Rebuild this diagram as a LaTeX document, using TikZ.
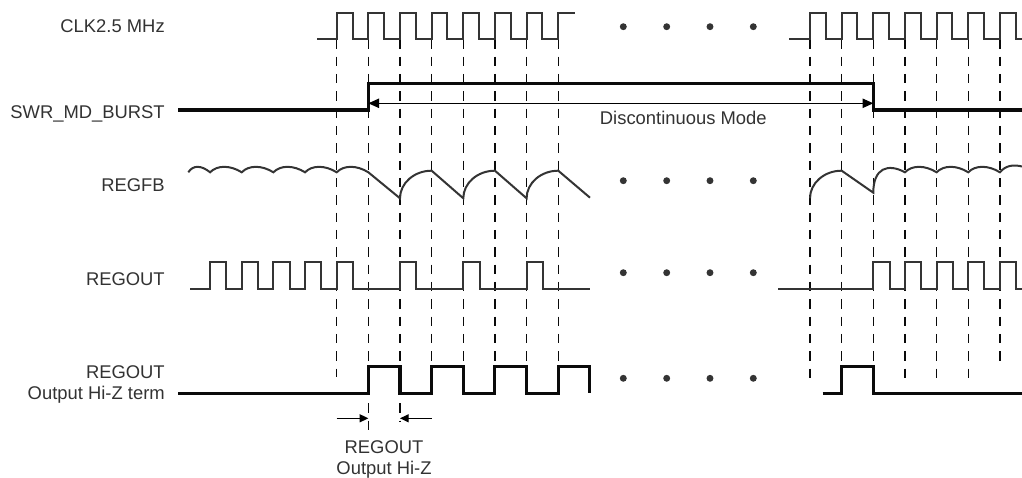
\documentclass[tikz,border=0pt]{standalone}
\usepackage{fontspec}
\setmainfont{Liberation Sans}
\usepackage{tikz}
\usetikzlibrary{arrows.meta,positioning}
\usepackage{xcolor}
\definecolor{wavegray}{RGB}{52,52,52}
\definecolor{textgray}{RGB}{50,50,50}
\definecolor{lineblack}{RGB}{10,10,10}

\begin{document}
\begin{tikzpicture}[
  x=0.75pt, y=-0.75pt,
  wave/.style={draw=wavegray, line width=1.5pt},
  heavy/.style={draw=lineblack, line width=2.3pt},
  guide/.style={draw=lineblack, line width=1.05pt, dash pattern=on 7pt off 6pt},
  arr/.style={{Triangle[length=8pt,width=7pt]}-{Triangle[length=8pt,width=7pt]}, line width=0.8pt},
  ptr/.style={-{Triangle[length=6.5pt,width=6pt]}, line width=0.9pt},
  lbl/.style={font=\fontsize{13.8}{15.8}\selectfont, text=textgray, inner sep=0pt}
]
\useasboundingbox (0,0) rectangle (1022,478);

% signal names
\node[lbl, anchor=base east] (clk) at (165,32.3) {CLK2.5 MHz};
\node[lbl, anchor=base east] (burst) at (165,118.5) {SWR\_MD\_BURST};
\node[lbl, anchor=base east] (regfb) at (165,191.7) {REGFB};
\node[lbl, anchor=base east] (regout) at (165,285) {REGOUT};
\node[lbl, anchor=base east] (hiztermA) at (165,378.3) {REGOUT};
\node[lbl, anchor=base east] (hiztermB) at ([yshift=-15.8pt]hiztermA.base east) {Output Hi-Z term};

% guide lines on the clock edges
\foreach \t/\e in {336.7/377, 368.35/433, 400/421, 431.65/366.7, 463.3/366.7, 494.95/366.7, 526.6/366.7, 558.25/366.7,
                   810/379, 841.65/366.7, 873.3/366.7, 904.95/379, 936.6/378, 968.25/378, 999.9/366.7}
  \draw[guide] (\t,39.3) -- (\t,\e);

% CLK2.5 MHz
\draw[wave] (317,39.3) foreach \k in {0,...,6}{ -- ({336.7+31.65*\k},39.3) |- ({352.5+31.65*\k},13.3) -- ({352.5+31.65*\k},39.3) }
  -- (558.25,39.3) |- (575,13.3);
\draw[wave] (789.3,39.3) foreach \k in {0,...,6}{ -- ({810+31.65*\k},39.3) |- ({825.8+31.65*\k},13.3) -- ({825.8+31.65*\k},39.3) }
  -- (1022,39.3);

% SWR_MD_BURST
\draw[heavy] (178.3,110) -- (368.35,110) |- (873.3,83.3) -- (873.3,110) -- (1022,110);
\coordinate (modeL) at (368.35,103.3);
\coordinate (modeR) at (873.3,103.3);
\draw[arr] (modeL) -- (modeR);
\node[lbl, anchor=base] (mode) at (683.3,124) {Discontinuous Mode};

% REGFB
\draw[wave] (188.3,172.3) .. controls (193,165) and (201,165) .. (210.1,172.3)
  foreach \c in {210.1,241.75,273.4,305.05,336.7}{ .. controls ({\c+7},165) and ({\c+20},165) .. ({\c+31.65},172.3) }
  foreach \c in {400,463.3,526.6}{ -- (\c,198.3) .. controls (\c,183.1) and ({\c+14.2},170.7) .. ({\c+31.65},170.7) }
  -- (590,197.7);
\draw[wave] (810,198.3) .. controls (810,183.1) and (824.2,170.7) .. (841.65,170.7) -- (873.3,192.7)
  .. controls (873.3,168) and (888,163) .. (904.95,172.3)
  foreach \c in {904.95,936.6,968.25}{ .. controls ({\c+7},165) and ({\c+20},165) .. ({\c+31.65},172.3) }
  .. controls (1006,165) and (1014,164.5) .. (1022,166.5);

% REGOUT
\draw[wave] (190,288.5) foreach \t in {210.1,241.75,273.4,305.05,336.7,400,463.3,526.6}{ -- (\t,288.5) |- ({\t+16.2},262.3) -- ({\t+16.2},288.5) }
  -- (590,288.5);
\draw[wave] (778.3,288.5) foreach \t in {873.3,904.95,936.6,968.25,999.9}{ -- (\t,288.5) |- ({\t+16.2},262.3) -- ({\t+16.2},288.5) }
  -- (1022,288.5);

% REGOUT Output Hi-Z term
\draw[heavy] (178.3,393.3) foreach \t in {368.35,431.65,494.95,558.25}{ -- (\t,393.3) |- ({\t+31.65},366.7) -- ({\t+31.65},393.3) };
\draw[heavy] (822.7,393.3) -- (841.65,393.3) |- (873.3,366.7) -- (873.3,393.3) -- (1022,393.3);

% Hi-Z window
\coordinate (zoutL) at (336.7,418.3);
\coordinate (zinL) at (368.35,418.3);
\coordinate (zinR) at (400,418.3);
\coordinate (zoutR) at (431.65,418.3);
\draw[ptr] (zoutL) -- (zinL);
\draw[ptr] (zoutR) -- (zinR);
\node[lbl, anchor=base] (hizA) at (384,453.5) {REGOUT};
\node[lbl, anchor=base] (hizB) at ([yshift=-15.6pt]hizA.base) {Output Hi-Z};

% gaps in time
\foreach \y in {26.7,180.7,272.7,378.3}
  \foreach \x in {623.3,666.7,710,753.3}
    \fill[wavegray] (\x,\y) circle[radius=2.6pt];
\end{tikzpicture}
\end{document}
